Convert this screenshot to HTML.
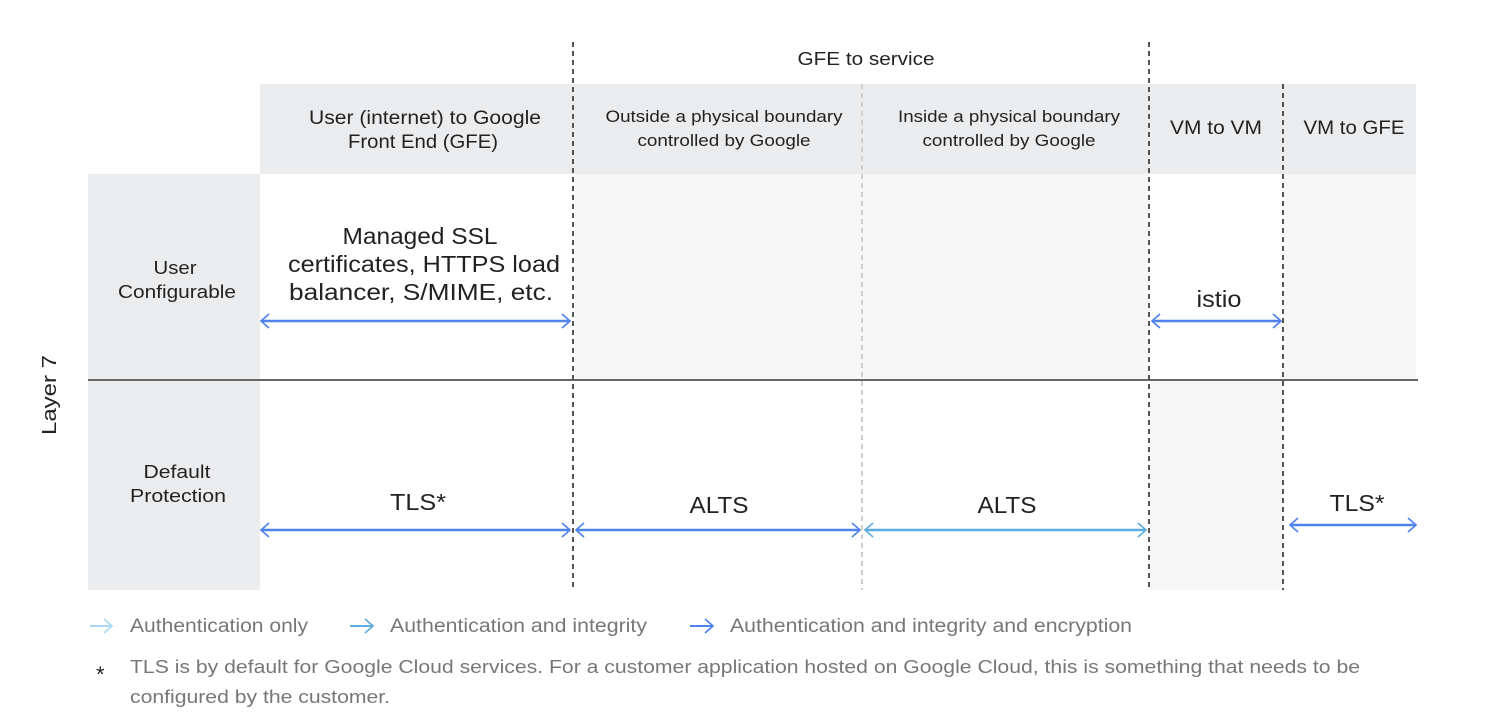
<!DOCTYPE html>
<html><head><meta charset="utf-8"><style>
html,body{margin:0;padding:0;background:#fff;}
svg{display:block;font-family:"Liberation Sans",sans-serif;}
</style></head><body>
<svg width="1496" height="728" viewBox="0 0 1496 728" xmlns="http://www.w3.org/2000/svg">
<defs>
<marker id="a1" viewBox="0 0 10 16" refX="9" refY="8" markerWidth="10" markerHeight="16" markerUnits="userSpaceOnUse" orient="auto-start-reverse"><path d="M1 1 L9 8 L1 15" fill="none" stroke="#4f82ee" stroke-width="1.6"/></marker>
<marker id="a2" viewBox="0 0 10 16" refX="9" refY="8" markerWidth="10" markerHeight="16" markerUnits="userSpaceOnUse" orient="auto-start-reverse"><path d="M1 1 L9 8 L1 15" fill="none" stroke="#5dade2" stroke-width="1.6"/></marker>
<marker id="a3" viewBox="0 0 10 16" refX="9" refY="8" markerWidth="10" markerHeight="16" markerUnits="userSpaceOnUse" orient="auto-start-reverse"><path d="M1 1 L9 8 L1 15" fill="none" stroke="#a9d9f6" stroke-width="1.6"/></marker>
</defs>
<rect x="260" y="84" width="1156" height="90" fill="#ebecee"/>
<rect x="88" y="174" width="172" height="416" fill="#ebecee"/>
<rect x="575" y="174" width="574" height="206" fill="#f6f6f6"/>
<rect x="1283" y="174" width="133" height="206" fill="#f6f6f6"/>
<rect x="1150" y="380" width="133" height="210" fill="#f6f6f6"/>
<line x1="88" y1="380" x2="1418" y2="380" stroke="#666" stroke-width="2"/>
<g stroke-width="2" stroke-dasharray="5,4">
<line x1="573" y1="42" x2="573" y2="590" stroke="#555"/>
<line x1="862" y1="84" x2="862" y2="590" stroke="#cfcfcf"/>
<line x1="1149" y1="42" x2="1149" y2="590" stroke="#555"/>
<line x1="1283" y1="84" x2="1283" y2="590" stroke="#555"/>
</g>
<g fill="#222" text-anchor="middle" font-size="18" lengthAdjust="spacingAndGlyphs">
<text x="866" y="65" textLength="137" lengthAdjust="spacingAndGlyphs">GFE to service</text>
<text x="425" y="124" font-size="19" textLength="232" lengthAdjust="spacingAndGlyphs">User (internet) to Google</text>
<text x="423" y="148" font-size="19" textLength="150" lengthAdjust="spacingAndGlyphs">Front End (GFE)</text>
<text x="724" y="122" font-size="17" textLength="237" lengthAdjust="spacingAndGlyphs">Outside a physical boundary</text>
<text x="724" y="146" font-size="17" textLength="173" lengthAdjust="spacingAndGlyphs">controlled by Google</text>
<text x="1009" y="122" font-size="17" textLength="222" lengthAdjust="spacingAndGlyphs">Inside a physical boundary</text>
<text x="1009" y="146" font-size="17" textLength="173" lengthAdjust="spacingAndGlyphs">controlled by Google</text>
<text x="1216" y="134" font-size="19" textLength="92" lengthAdjust="spacingAndGlyphs">VM to VM</text>
<text x="1354" y="134" font-size="19" textLength="101" lengthAdjust="spacingAndGlyphs">VM to GFE</text>
<text x="175" y="274" textLength="43" lengthAdjust="spacingAndGlyphs">User</text>
<text x="177" y="298" textLength="118" lengthAdjust="spacingAndGlyphs">Configurable</text>
<text x="177" y="478" textLength="67" lengthAdjust="spacingAndGlyphs">Default</text>
<text x="178" y="502" textLength="96" lengthAdjust="spacingAndGlyphs">Protection</text>
<text x="56" y="395" font-size="20" transform="rotate(-90 56 395)" textLength="80" lengthAdjust="spacingAndGlyphs">Layer 7</text>
<g font-size="23">
<text x="420" y="244" textLength="155" lengthAdjust="spacingAndGlyphs">Managed SSL</text>
<text x="424" y="272" textLength="272" lengthAdjust="spacingAndGlyphs">certificates, HTTPS load</text>
<text x="421" y="300" textLength="264" lengthAdjust="spacingAndGlyphs">balancer, S/MIME, etc.</text>
<text x="1219" y="307" textLength="45" lengthAdjust="spacingAndGlyphs">istio</text>
<text x="418" y="510" textLength="56" lengthAdjust="spacingAndGlyphs">TLS*</text>
<text x="719" y="513" textLength="59" lengthAdjust="spacingAndGlyphs">ALTS</text>
<text x="1007" y="513" textLength="59" lengthAdjust="spacingAndGlyphs">ALTS</text>
<text x="1357" y="511" textLength="55" lengthAdjust="spacingAndGlyphs">TLS*</text>
</g>
</g>
<g stroke-width="2.5" fill="none">
<line x1="261" y1="321" x2="570" y2="321" stroke="#4f82ee" marker-start="url(#a1)" marker-end="url(#a1)"/>
<line x1="1152" y1="321" x2="1281" y2="321" stroke="#4f82ee" marker-start="url(#a1)" marker-end="url(#a1)"/>
<line x1="261" y1="530" x2="570" y2="530" stroke="#4f82ee" marker-start="url(#a1)" marker-end="url(#a1)"/>
<line x1="576" y1="530" x2="860" y2="530" stroke="#4f82ee" marker-start="url(#a1)" marker-end="url(#a1)"/>
<line x1="865" y1="530" x2="1146" y2="530" stroke="#5dade2" marker-start="url(#a2)" marker-end="url(#a2)"/>
<line x1="1290" y1="525" x2="1416" y2="525" stroke="#4f82ee" marker-start="url(#a1)" marker-end="url(#a1)"/>
<line x1="90" y1="626" x2="112" y2="626" stroke="#a9d9f6" stroke-width="2" marker-end="url(#a3)"/>
<line x1="350" y1="626" x2="373" y2="626" stroke="#5dade2" stroke-width="2" marker-end="url(#a2)"/>
<line x1="690" y1="626" x2="713" y2="626" stroke="#4f82ee" stroke-width="2" marker-end="url(#a1)"/>
</g>
<g fill="#777" font-size="19">
<text x="130" y="632" textLength="178" lengthAdjust="spacingAndGlyphs">Authentication only</text>
<text x="390" y="632" textLength="257" lengthAdjust="spacingAndGlyphs">Authentication and integrity</text>
<text x="730" y="632" textLength="402" lengthAdjust="spacingAndGlyphs">Authentication and integrity and encryption</text>
<text x="130" y="673" font-size="18" textLength="1230" lengthAdjust="spacingAndGlyphs">TLS is by default for Google Cloud services. For a customer application hosted on Google Cloud, this is something that needs to be</text>
<text x="130" y="703" font-size="18" textLength="260" lengthAdjust="spacingAndGlyphs">configured by the customer.</text>
</g>
<text x="96" y="682" font-size="22" fill="#222">*</text>
</svg>
</body></html>
